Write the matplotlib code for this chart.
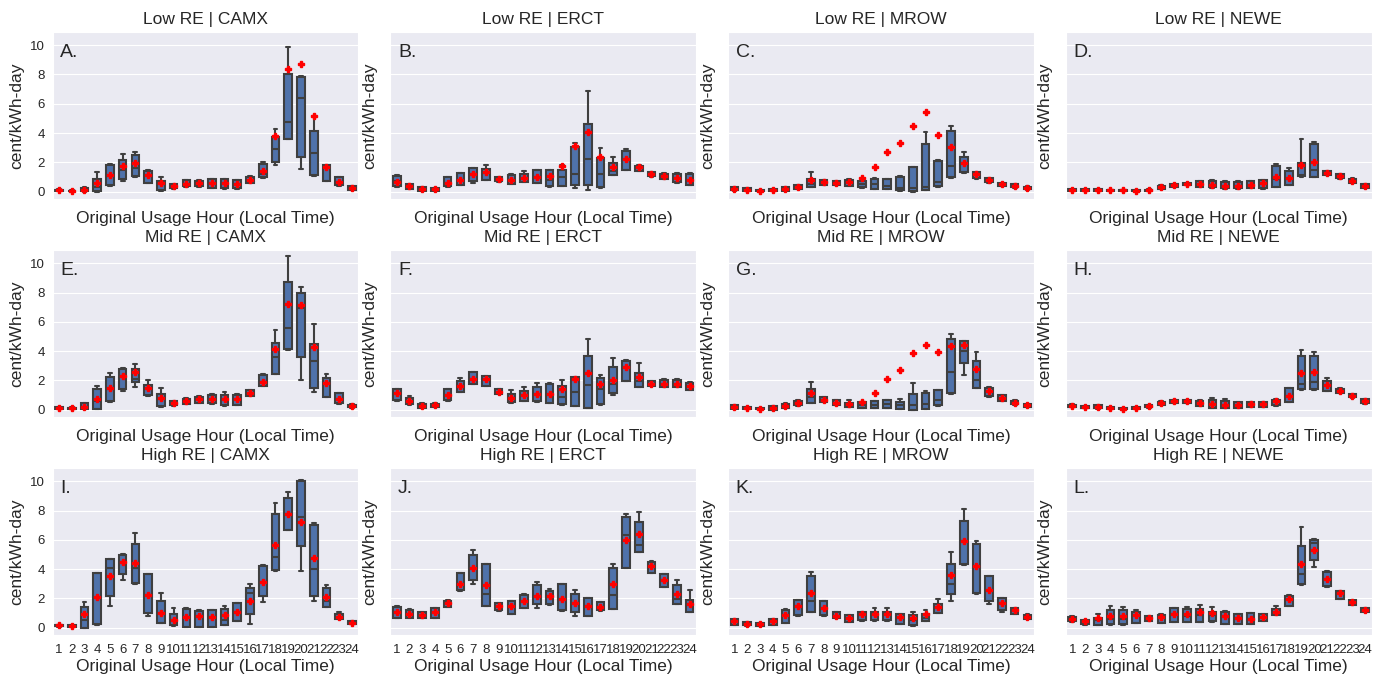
import matplotlib
matplotlib.use("Agg")
import matplotlib.pyplot as plt
import seaborn as sns

# hourly price boxes per scenario and region
# each row: (whisker low, q1, median, q3, whisker high, mean)  cent/kWh-day
hours = list(range(1, 25))

low_camx = [(0.05, 0.06, 0.1, 0.15, 0.17, 0.12), (0.02, 0.03, 0.05, 0.08, 0.1, 0.06),
            (0.0, 0.02, 0.12, 0.28, 0.32, 0.15), (0.0, 0.02, 0.35, 0.9, 1.35, 0.6),
            (0.4, 0.45, 1.1, 1.85, 1.9, 1.15), (0.72, 0.9, 1.5, 2.15, 2.6, 1.75),
            (1.0, 1.05, 1.6, 2.5, 2.72, 1.93), (0.57, 0.6, 1.15, 1.43, 1.45, 1.17),
            (0.07, 0.1, 0.55, 0.73, 1.0, 0.6), (0.2, 0.22, 0.35, 0.5, 0.52, 0.38),
            (0.35, 0.37, 0.55, 0.8, 0.82, 0.55), (0.35, 0.37, 0.58, 0.75, 0.78, 0.58),
            (0.27, 0.28, 0.62, 0.85, 0.88, 0.62), (0.2, 0.22, 0.58, 0.86, 0.9, 0.6),
            (0.2, 0.22, 0.5, 0.8, 0.82, 0.55), (0.57, 0.6, 0.8, 1.0, 1.1, 0.8),
            (0.95, 1.0, 1.2, 1.87, 2.05, 1.43), (1.85, 2.0, 2.9, 3.7, 4.3, 3.8),
            (3.6, 3.62, 4.77, 8.0, 9.85, 8.4), (1.52, 2.4, 6.4, 7.8, 7.9, 8.7),
            (1.1, 1.13, 2.65, 4.15, 5.2, 5.2), (0.7, 0.73, 1.6, 1.8, 1.82, 1.7),
            (0.42, 0.43, 0.68, 0.97, 1.0, 0.68), (0.12, 0.13, 0.27, 0.4, 0.42, 0.27)]

low_erct = [(0.34, 0.36, 0.7, 1.1, 1.12, 0.65), (0.16, 0.18, 0.35, 0.52, 0.54, 0.36),
            (0.05, 0.07, 0.2, 0.3, 0.32, 0.2), (0.05, 0.07, 0.15, 0.25, 0.27, 0.16),
            (0.34, 0.36, 0.6, 0.98, 1.0, 0.6), (0.46, 0.48, 0.8, 1.27, 1.3, 0.82),
            (0.6, 0.7, 1.2, 1.6, 1.65, 1.2), (0.78, 0.8, 1.3, 1.57, 1.8, 1.34),
            (0.68, 0.7, 0.86, 1.0, 1.02, 0.86), (0.53, 0.55, 0.8, 1.16, 1.18, 0.8),
            (0.66, 0.68, 0.95, 1.2, 1.43, 0.93), (0.58, 0.6, 1.0, 1.45, 1.5, 1.0),
            (0.34, 0.41, 0.8, 1.45, 1.48, 1.05), (0.39, 0.41, 0.98, 1.5, 1.8, 1.73),
            (0.23, 0.48, 1.23, 3.05, 3.3, 3.15), (0.1, 0.43, 2.25, 4.6, 6.9, 4.05),
            (0.28, 0.3, 1.22, 2.3, 3.0, 2.38), (1.14, 1.16, 1.4, 1.95, 2.35, 1.7),
            (1.48, 1.5, 2.2, 2.8, 2.9, 2.23), (1.41, 1.43, 1.66, 1.77, 1.79, 1.66),
            (1.03, 1.05, 1.23, 1.32, 1.34, 1.23), (0.87, 0.89, 1.1, 1.23, 1.25, 1.1),
            (0.62, 0.64, 0.93, 1.23, 1.25, 0.93), (0.43, 0.45, 0.82, 1.23, 1.25, 0.82)]

low_mrow = [(0.08, 0.1, 0.2, 0.3, 0.32, 0.2), (0.05, 0.07, 0.14, 0.22, 0.24, 0.14),
            (0.0, 0.02, 0.07, 0.12, 0.14, 0.07), (0.03, 0.05, 0.11, 0.18, 0.2, 0.11),
            (0.05, 0.07, 0.2, 0.3, 0.32, 0.2), (0.18, 0.2, 0.34, 0.43, 0.45, 0.34),
            (0.32, 0.34, 0.55, 0.89, 1.32, 0.77), (0.43, 0.45, 0.64, 0.77, 0.79, 0.64),
            (0.43, 0.45, 0.59, 0.7, 0.72, 0.59), (0.39, 0.41, 0.64, 0.82, 0.84, 0.64),
            (0.28, 0.3, 0.55, 0.73, 0.75, 0.93), (0.16, 0.18, 0.52, 0.89, 0.91, 1.66),
            (0.16, 0.18, 0.41, 0.86, 0.88, 2.7), (0.07, 0.09, 0.25, 0.98, 1.09, 3.34),
            (0.0, 0.02, 0.25, 1.66, 1.68, 4.5), (0.12, 0.14, 0.3, 3.27, 4.05, 5.43),
            (0.34, 0.36, 0.66, 2.11, 2.13, 3.86), (0.96, 0.98, 1.77, 4.16, 4.5, 3.02),
            (1.3, 1.32, 1.95, 2.34, 2.68, 1.95), (0.89, 0.91, 1.2, 1.34, 1.36, 1.2),
            (0.62, 0.64, 0.8, 0.93, 0.95, 0.8), (0.37, 0.39, 0.52, 0.59, 0.61, 0.52),
            (0.28, 0.3, 0.41, 0.52, 0.54, 0.41), (0.14, 0.16, 0.25, 0.34, 0.36, 0.25)]

low_newe = [(0.06, 0.08, 0.12, 0.16, 0.18, 0.12), (0.06, 0.08, 0.12, 0.16, 0.18, 0.12),
            (0.06, 0.08, 0.12, 0.16, 0.18, 0.12), (0.04, 0.05, 0.09, 0.13, 0.15, 0.09),
            (0.04, 0.05, 0.09, 0.13, 0.15, 0.09), (0.03, 0.04, 0.08, 0.12, 0.14, 0.08),
            (0.05, 0.06, 0.1, 0.14, 0.16, 0.1), (0.16, 0.18, 0.32, 0.41, 0.43, 0.32),
            (0.33, 0.35, 0.43, 0.5, 0.52, 0.43), (0.43, 0.45, 0.5, 0.58, 0.6, 0.5),
            (0.3, 0.32, 0.52, 0.7, 0.72, 0.52), (0.28, 0.3, 0.45, 0.7, 0.77, 0.45),
            (0.21, 0.23, 0.41, 0.68, 0.7, 0.41), (0.21, 0.23, 0.41, 0.68, 0.7, 0.41),
            (0.23, 0.25, 0.43, 0.7, 0.72, 0.43), (0.21, 0.23, 0.59, 0.77, 0.79, 0.59),
            (0.3, 0.32, 0.9, 1.73, 1.91, 1.0), (0.46, 0.48, 0.9, 1.39, 1.61, 0.93),
            (1.03, 1.05, 1.15, 1.95, 3.6, 1.82), (1.0, 1.02, 1.45, 3.25, 3.36, 2.0),
            (1.12, 1.14, 1.27, 1.39, 1.41, 1.27), (0.89, 0.91, 1.05, 1.18, 1.2, 1.05),
            (0.59, 0.61, 0.73, 0.89, 0.91, 0.73), (0.23, 0.25, 0.39, 0.52, 0.54, 0.39)]

mid_camx = [(0.07, 0.08, 0.14, 0.2, 0.22, 0.14), (0.03, 0.04, 0.09, 0.14, 0.16, 0.09),
            (0.03, 0.05, 0.2, 0.46, 0.48, 0.2), (0.03, 0.05, 0.6, 1.42, 1.6, 0.73),
            (0.5, 0.57, 1.4, 2.24, 2.52, 1.49), (1.26, 1.42, 2.3, 2.81, 2.83, 2.27),
            (1.53, 1.88, 2.13, 2.81, 3.09, 2.59), (0.96, 0.98, 1.5, 1.72, 2.01, 1.51),
            (0.16, 0.27, 0.75, 1.1, 1.49, 0.82), (0.28, 0.3, 0.46, 0.57, 0.59, 0.46),
            (0.39, 0.41, 0.62, 0.76, 0.78, 0.62), (0.44, 0.46, 0.73, 0.89, 0.91, 0.73),
            (0.41, 0.43, 0.73, 0.98, 1.1, 0.73), (0.28, 0.3, 0.7, 1.03, 1.19, 0.73),
            (0.3, 0.32, 0.7, 1.03, 1.05, 0.73), (0.94, 0.96, 1.14, 1.33, 1.35, 1.14),
            (1.6, 1.62, 1.9, 2.4, 2.42, 1.9), (2.43, 2.45, 3.59, 4.58, 5.45, 4.14),
            (4.1, 4.12, 5.6, 8.7, 10.48, 7.2), (2.04, 3.59, 6.91, 7.96, 8.4, 7.16),
            (1.24, 1.49, 3.36, 4.46, 5.88, 4.28), (0.85, 0.87, 1.8, 2.17, 2.45, 1.81),
            (0.41, 0.43, 0.73, 1.14, 1.16, 0.73), (0.14, 0.16, 0.25, 0.34, 0.36, 0.25)]

mid_erct = [(0.62, 0.64, 1.12, 1.4, 1.42, 1.12), (0.35, 0.37, 0.57, 0.83, 0.95, 0.57),
            (0.09, 0.11, 0.28, 0.41, 0.43, 0.28), (0.16, 0.18, 0.3, 0.41, 0.43, 0.3),
            (0.62, 0.64, 0.98, 1.4, 1.42, 0.98), (1.19, 1.21, 1.6, 1.97, 2.17, 1.6),
            (1.76, 1.78, 2.13, 2.58, 2.6, 2.13), (1.6, 1.62, 2.08, 2.29, 2.31, 2.08),
            (1.08, 1.1, 1.21, 1.4, 1.42, 1.21), (0.48, 0.5, 0.83, 1.05, 1.33, 0.83),
            (0.6, 0.62, 0.98, 1.29, 1.56, 0.98), (0.55, 0.57, 1.05, 1.56, 1.84, 1.05),
            (0.46, 0.48, 1.1, 1.78, 1.8, 1.1), (0.35, 0.37, 0.9, 1.6, 2.0, 1.42),
            (0.23, 0.25, 1.21, 2.22, 2.24, 2.08), (0.09, 0.11, 1.67, 3.67, 4.82, 2.54),
            (0.35, 0.37, 1.4, 2.17, 2.36, 1.77), (0.98, 1.12, 1.74, 2.89, 3.5, 2.06),
            (1.95, 1.97, 2.93, 3.35, 3.37, 2.93), (1.54, 1.56, 1.95, 2.52, 3.2, 2.24),
            (1.61, 1.63, 1.79, 1.95, 1.97, 1.79), (1.54, 1.56, 1.79, 2.06, 2.08, 1.79),
            (1.54, 1.56, 1.77, 2.06, 2.08, 1.77), (1.36, 1.38, 1.63, 1.84, 1.86, 1.63)]

mid_mrow = [(0.05, 0.07, 0.16, 0.3, 0.32, 0.16), (0.05, 0.06, 0.11, 0.18, 0.2, 0.11),
            (0.02, 0.03, 0.07, 0.13, 0.15, 0.07), (0.0, 0.01, 0.11, 0.23, 0.25, 0.11),
            (0.09, 0.11, 0.25, 0.41, 0.43, 0.25), (0.28, 0.3, 0.46, 0.62, 0.64, 0.46),
            (0.46, 0.48, 0.9, 1.45, 1.86, 1.15), (0.51, 0.53, 0.69, 0.85, 0.87, 0.69),
            (0.3, 0.32, 0.48, 0.64, 0.66, 0.48), (0.16, 0.18, 0.37, 0.48, 0.64, 0.37),
            (0.09, 0.11, 0.35, 0.53, 0.55, 0.53), (0.09, 0.11, 0.3, 0.57, 0.59, 1.17),
            (0.09, 0.11, 0.37, 0.64, 0.66, 2.11), (0.05, 0.07, 0.3, 0.53, 0.76, 2.69),
            (0.0, 0.01, 0.3, 1.05, 1.84, 3.88), (0.05, 0.07, 0.4, 1.15, 1.29, 4.43),
            (0.28, 0.3, 0.64, 1.35, 1.37, 3.92), (1.1, 1.15, 2.6, 4.83, 5.15, 4.34),
            (2.4, 3.2, 4.03, 4.69, 4.71, 4.43), (1.47, 1.49, 2.06, 3.32, 3.96, 2.77),
            (0.9, 0.92, 1.28, 1.51, 1.53, 1.28), (0.58, 0.6, 0.8, 0.98, 1.0, 0.8),
            (0.35, 0.37, 0.48, 0.62, 0.64, 0.48), (0.16, 0.18, 0.3, 0.39, 0.41, 0.3)]

mid_newe = [(0.18, 0.2, 0.27, 0.35, 0.37, 0.27), (0.1, 0.12, 0.18, 0.25, 0.27, 0.18),
            (0.08, 0.1, 0.18, 0.3, 0.32, 0.18), (0.03, 0.05, 0.11, 0.18, 0.2, 0.11),
            (0.0, 0.02, 0.07, 0.13, 0.15, 0.07), (0.06, 0.08, 0.14, 0.2, 0.22, 0.14),
            (0.14, 0.16, 0.23, 0.32, 0.34, 0.23), (0.33, 0.35, 0.43, 0.55, 0.57, 0.43),
            (0.43, 0.45, 0.57, 0.65, 0.67, 0.57), (0.45, 0.47, 0.57, 0.65, 0.67, 0.57),
            (0.23, 0.25, 0.48, 0.62, 0.64, 0.48), (0.12, 0.14, 0.39, 0.64, 0.78, 0.39),
            (0.1, 0.12, 0.34, 0.6, 0.75, 0.34), (0.1, 0.12, 0.34, 0.53, 0.55, 0.34),
            (0.16, 0.18, 0.39, 0.53, 0.55, 0.39), (0.2, 0.22, 0.37, 0.53, 0.55, 0.37),
            (0.28, 0.3, 0.6, 0.69, 0.71, 0.6), (0.51, 0.53, 0.94, 1.49, 1.51, 0.94),
            (1.38, 1.4, 1.79, 3.67, 4.08, 2.48), (1.38, 1.4, 1.9, 3.67, 3.92, 2.55),
            (1.26, 1.28, 1.72, 1.97, 2.17, 1.72), (1.15, 1.17, 1.28, 1.44, 1.46, 1.28),
            (0.83, 0.85, 0.94, 1.05, 1.07, 0.94), (0.41, 0.43, 0.6, 0.71, 0.73, 0.6)]

high_camx = [(0.08, 0.1, 0.16, 0.2, 0.22, 0.16), (0.06, 0.08, 0.14, 0.18, 0.2, 0.14),
             (0.0, 0.01, 0.5, 1.45, 1.75, 0.93), (0.2, 0.27, 2.0, 3.73, 3.75, 2.09),
             (1.52, 2.2, 4.11, 4.66, 4.68, 3.5), (3.27, 3.66, 4.52, 5.0, 5.02, 4.52),
             (3.0, 3.07, 4.09, 5.73, 6.45, 4.39), (0.8, 1.0, 2.27, 3.68, 3.7, 2.27),
             (0.3, 0.32, 1.0, 1.82, 2.39, 1.02), (0.14, 0.16, 0.55, 0.95, 1.36, 0.55),
             (0.03, 0.05, 0.73, 1.3, 1.32, 0.73), (0.03, 0.05, 0.8, 1.16, 1.18, 0.8),
             (0.03, 0.05, 0.77, 1.2, 1.22, 0.77), (0.18, 0.2, 0.5, 1.25, 1.48, 0.84),
             (0.43, 0.45, 1.07, 1.66, 1.68, 1.07), (0.27, 0.95, 2.39, 2.73, 2.98, 1.86),
             (1.75, 2.16, 3.14, 4.25, 4.27, 3.14), (3.85, 3.91, 4.82, 7.77, 8.52, 5.66),
             (6.68, 6.7, 7.77, 8.84, 9.25, 7.75), (3.86, 5.55, 7.59, 10.0, 10.1, 7.25),
             (1.86, 2.16, 4.02, 6.98, 7.14, 4.75), (1.43, 1.45, 1.8, 2.7, 2.95, 2.09),
             (0.59, 0.61, 0.77, 0.95, 1.11, 0.77), (0.25, 0.27, 0.34, 0.45, 0.47, 0.34)]

high_erct = [(0.66, 0.68, 1.07, 1.45, 1.47, 1.07), (0.66, 0.68, 0.95, 1.23, 1.3, 0.95),
             (0.64, 0.66, 0.84, 1.07, 1.09, 0.84), (0.66, 0.68, 1.07, 1.36, 1.38, 1.07),
             (1.43, 1.45, 1.7, 1.86, 1.88, 1.7), (2.53, 2.55, 2.98, 3.73, 3.75, 2.98),
             (3.0, 3.23, 4.09, 4.98, 5.34, 4.09), (1.5, 1.52, 2.32, 4.36, 4.38, 2.89),
             (1.16, 1.18, 1.48, 1.7, 1.72, 1.48), (0.93, 0.95, 1.48, 1.8, 1.82, 1.48),
             (1.34, 1.36, 1.8, 2.27, 2.29, 1.8), (1.36, 1.64, 2.16, 2.95, 3.11, 2.16),
             (1.57, 1.59, 2.14, 2.48, 2.66, 2.14), (1.16, 1.18, 1.98, 3.0, 3.02, 1.98),
             (0.8, 1.07, 1.68, 2.32, 2.55, 1.68), (0.78, 0.8, 1.5, 2.02, 2.04, 1.5),
             (1.16, 1.18, 1.45, 1.75, 1.77, 1.45), (1.28, 1.3, 2.25, 4.07, 4.32, 3.0),
             (4.05, 4.07, 6.3, 7.55, 7.77, 5.98), (5.14, 5.16, 5.68, 7.25, 7.93, 6.41),
             (3.71, 3.73, 4.25, 4.52, 4.54, 4.25), (2.75, 2.77, 3.23, 3.68, 3.7, 3.23),
             (1.62, 1.64, 1.98, 2.93, 3.23, 2.32), (1.05, 1.07, 1.59, 1.91, 2.59, 1.59)]

high_mrow = [(0.18, 0.2, 0.43, 0.57, 0.59, 0.43), (0.14, 0.16, 0.27, 0.39, 0.41, 0.27),
             (0.09, 0.11, 0.23, 0.32, 0.34, 0.23), (0.18, 0.2, 0.43, 0.61, 0.63, 0.43),
             (0.32, 0.34, 0.84, 1.18, 1.3, 0.84), (0.82, 0.84, 1.48, 1.91, 1.93, 1.48),
             (1.05, 1.07, 1.8, 3.5, 3.84, 2.36), (0.82, 0.84, 1.34, 1.8, 1.82, 1.34),
             (0.66, 0.68, 0.8, 1.07, 1.09, 0.8), (0.37, 0.39, 0.68, 0.84, 0.86, 0.68),
             (0.48, 0.5, 0.91, 1.07, 1.09, 0.91), (0.48, 0.5, 0.95, 1.07, 1.34, 0.95),
             (0.48, 0.5, 0.91, 1.07, 1.36, 0.91), (0.25, 0.27, 0.77, 0.95, 0.97, 0.77),
             (0.14, 0.16, 0.5, 0.84, 1.11, 0.7), (0.43, 0.45, 0.7, 0.95, 1.18, 0.91),
             (1.0, 1.02, 1.41, 1.64, 1.98, 1.41), (1.8, 2.32, 3.0, 4.36, 5.2, 3.57),
             (4.3, 4.36, 5.89, 7.27, 8.11, 5.89), (2.3, 2.36, 4.2, 5.73, 5.93, 4.2),
             (1.64, 1.8, 2.61, 3.5, 3.52, 2.61), (1.07, 1.23, 1.68, 2.02, 2.04, 1.68),
             (0.93, 0.95, 1.18, 1.36, 1.38, 1.18), (0.59, 0.61, 0.77, 0.89, 0.91, 0.77)]

high_newe = [(0.41, 0.43, 0.61, 0.77, 0.79, 0.61), (0.21, 0.23, 0.43, 0.5, 0.52, 0.43),
             (0.18, 0.2, 0.5, 0.68, 0.95, 0.66), (0.21, 0.23, 0.57, 1.18, 1.52, 0.8),
             (0.21, 0.23, 0.6, 1.23, 1.45, 0.8), (0.3, 0.32, 0.89, 1.07, 1.18, 0.89),
             (0.43, 0.45, 0.66, 0.8, 0.82, 0.66), (0.32, 0.34, 0.73, 0.89, 0.91, 0.73),
             (0.37, 0.39, 0.91, 1.34, 1.36, 0.91), (0.37, 0.39, 0.8, 1.3, 1.41, 0.95),
             (0.37, 0.39, 0.9, 1.3, 1.57, 1.07), (0.41, 0.43, 0.9, 1.11, 1.41, 1.0),
             (0.25, 0.27, 0.8, 1.11, 1.13, 0.8), (0.25, 0.27, 0.68, 0.95, 0.97, 0.68),
             (0.25, 0.27, 0.61, 1.0, 1.02, 0.61), (0.43, 0.45, 0.73, 0.95, 0.97, 0.73),
             (0.87, 0.89, 1.11, 1.3, 1.48, 1.11), (1.5, 1.52, 1.98, 2.2, 2.22, 1.98),
             (2.93, 3.0, 3.64, 5.55, 6.86, 4.36), (4.18, 4.6, 5.8, 6.02, 6.07, 5.34),
             (2.8, 2.82, 3.34, 3.84, 3.86, 3.34), (1.96, 1.98, 2.39, 2.5, 2.52, 2.39),
             (1.55, 1.57, 1.75, 1.91, 1.93, 1.75), (1.05, 1.07, 1.18, 1.34, 1.36, 1.18)]

scenarios = ["Low RE", "Mid RE", "High RE"]
regions = ["CAMX", "ERCT", "MROW", "NEWE"]
panels = [[low_camx, low_erct, low_mrow, low_newe],
          [mid_camx, mid_erct, mid_mrow, mid_newe],
          [high_camx, high_erct, high_mrow, high_newe]]
letters = "ABCDEFGHIJKL"

sns.set_style("darkgrid")
plt.rcParams['font.family'] = ['Liberation Sans', 'DejaVu Sans']

box_color = '#4f72aa'
line_color = '#3f3f3f'

fig, axes = plt.subplots(3, 4, figsize=(13.84, 6.8), dpi=100)
fig.subplots_adjust(left=0.038, right=0.991, top=0.953, bottom=0.066,
                    wspace=0.105, hspace=0.305)

for r in range(3):
    for c in range(4):
        ax = axes[r, c]
        stats = []
        for h, (lo, q1, med, q3, hi, mean) in zip(hours, panels[r][c]):
            stats.append(dict(whislo=lo, q1=q1, med=med, q3=q3, whishi=hi,
                              mean=mean, fliers=[], label=str(h)))
        ax.bxp(stats, positions=hours, widths=0.6, showmeans=True, showfliers=False,
               patch_artist=True,
               boxprops=dict(facecolor=box_color, edgecolor=line_color, linewidth=1.5),
               medianprops=dict(color=line_color, linewidth=1.5),
               whiskerprops=dict(color=line_color, linewidth=1.5),
               capprops=dict(color=line_color, linewidth=1.5),
               meanprops=dict(marker='P', markerfacecolor='red', markeredgecolor='red',
                              markersize=5))
        ax.xaxis.grid(False)
        ax.set_xlim(0.5, 24.5)
        ax.set_ylim(-0.5, 10.9)
        ax.set_yticks([0, 2, 4, 6, 8, 10])
        ax.tick_params(axis='y', labelsize=9.5, pad=2)
        ax.tick_params(axis='x', labelsize=9.5, pad=3)
        if c > 0:
            ax.set_yticklabels([])
        if r < 2:
            ax.set_xticklabels([])
        ax.set_title(f"{scenarios[r]} | {regions[c]}", fontsize=12.5, pad=6)
        ax.set_xlabel("Original Usage Hour (Local Time)", fontsize=12.5, labelpad=2)
        ax.set_ylabel("cent/kWh-day", fontsize=12.5, labelpad=4)
        ax.text(0.025, 0.88, letters[r * 4 + c] + ".", transform=ax.transAxes,
                fontsize=14, va='center', ha='left')

plt.savefig("out.png", dpi=100)
